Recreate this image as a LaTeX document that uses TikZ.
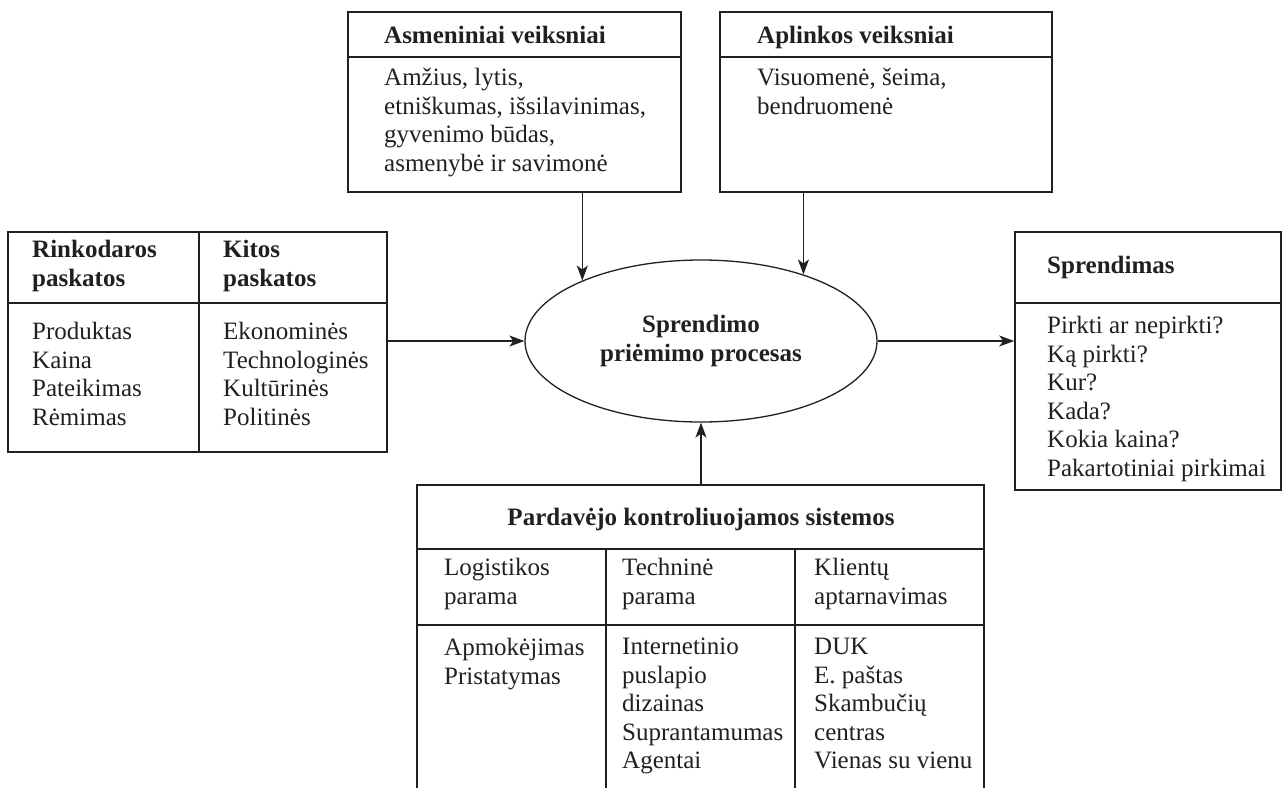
\documentclass[tikz,border=0pt]{standalone}
\usepackage{fontspec}
\setmainfont{Liberation Serif}
\usepackage{tikz}
\usetikzlibrary{arrows.meta, positioning, calc, fit, shapes.geometric}
\definecolor{ink}{HTML}{231F20}
\newcommand{\diagfont}{\fontsize{25}{28.5}\selectfont}
\tikzset{
    frame/.style={draw=ink, line width=1.6pt, inner sep=0pt, fit={#1}},
    rule/.style={draw=ink, line width=1.6pt},
    txt/.style={anchor=north west, inner sep=0pt, align=left, text=ink, font=\diagfont,
                execute at begin node=\strut},
    hd/.style={txt, font=\diagfont\bfseries},
    proc/.style={ellipse, draw=ink, line width=1.3pt, minimum width=352pt, minimum height=162pt,
                 inner sep=0pt, align=center, text=ink, font=\diagfont\bfseries},
    arr/.style={-{Stealth[length=15pt, width=11pt, inset=4pt]}, line width=1.3pt, ink}
}
\begin{document}
\begin{tikzpicture}[x=1pt, y=-1pt]
    \useasboundingbox (0,0) rectangle (1282,787);
    \clip (0,0) rectangle (1282,787);
    % personal and environmental factors
    \node[frame={(348,12) (681,192)}] (asm) {};
    \node[frame={(720,12) (1052,192)}] (apl) {};
    \coordinate (topdiv) at (0,57);
    \draw[rule] (asm.west |- topdiv) -- (asm.east |- topdiv);
    \draw[rule] (apl.west |- topdiv) -- (apl.east |- topdiv);
    \node[hd] (asmT) at (384,23) {Asmeniniai veiksniai};
    \node[txt] (asmB) at (384,68) {Amžius, lytis,\\etniškumas, išsilavinimas,\\gyvenimo būdas,\\asmenybė ir savimonė};
    \node[hd] (aplT) at (757,23) {Aplinkos veiksniai};
    \node[txt] (aplB) at (757,68) {Visuomenė, šeima,\\bendruomenė};
    % stimuli
    \node[frame={(8,232) (387,452)}] (mkt) {};
    \coordinate (mktdiv) at (199,303);
    \draw[rule] (mkt.west |- mktdiv) -- (mkt.east |- mktdiv);
    \draw[rule] (mkt.north -| mktdiv) -- (mkt.south -| mktdiv);
    \node[hd] (mktT) at (32,240) {Rinkodaros\\paskatos};
    \node[hd] (othT) at (223,240) {Kitos\\paskatos};
    \node[txt] (mktB) at (32,322) {Produktas\\Kaina\\Pateikimas\\Rėmimas};
    \node[txt] (othB) at (223,322) {Ekonominės\\Technologinės\\Kultūrinės\\Politinės};
    % decision process
    \node[proc] (proc) at (701,341) {Sprendimo\\priėmimo procesas};
    % decision
    \node[frame={(1015,232) (1281,490)}] (spr) {};
    \coordinate (sprdiv) at (0,303);
    \draw[rule] (spr.west |- sprdiv) -- (spr.east |- sprdiv);
    \node[hd] (sprT) at (1047,253) {Sprendimas};
    \node[txt] (sprB) at (1047,316) {Pirkti ar nepirkti?\\Ką pirkti?\\Kur?\\Kada?\\Kokia kaina?\\Pakartotiniai pirkimai};
    % seller systems
    \node[frame={(417,485) (984,800)}] (pard) {};
    \coordinate (pardhd) at (606,549);
    \coordinate (pardrow) at (795,625);
    \draw[rule] (pard.west |- pardhd) -- (pard.east |- pardhd);
    \draw[rule] (pard.west |- pardrow) -- (pard.east |- pardrow);
    \draw[rule] (pardhd) -- (pard.south -| pardhd);
    \draw[rule] (pardhd -| pardrow) -- (pard.south -| pardrow);
    \node[hd, anchor=base] (pardT) at (701,525) {Pardavėjo kontroliuojamos sistemos};
    \node[txt] (logT) at (444,558) {Logistikos\\parama};
    \node[txt] (tecT) at (622,558) {Techninė\\parama};
    \node[txt] (kliT) at (814,558) {Klientų\\aptarnavimas};
    \node[txt] (logB) at (444,638) {Apmokėjimas\\Pristatymas};
    \node[txt] (tecB) at (622,638) {Internetinio\\puslapio\\dizainas\\Suprantamumas\\Agentai};
    \node[txt] (kliB) at (814,638) {DUK\\E. paštas\\Skambučių\\centras\\Vienas su vienu};
    % connectors
    \draw[arr] (asm.south -| proc.153) -- (proc.153);
    \draw[arr] (apl.south -| proc.33) -- (proc.33);
    \draw[arr] (proc.west -| mkt.east) -- (proc.west);
    \draw[arr] (proc.east) -- (proc.east -| spr.west);
    \draw[arr] (pard.north -| proc.south) -- (proc.south);
\end{tikzpicture}
\end{document}
